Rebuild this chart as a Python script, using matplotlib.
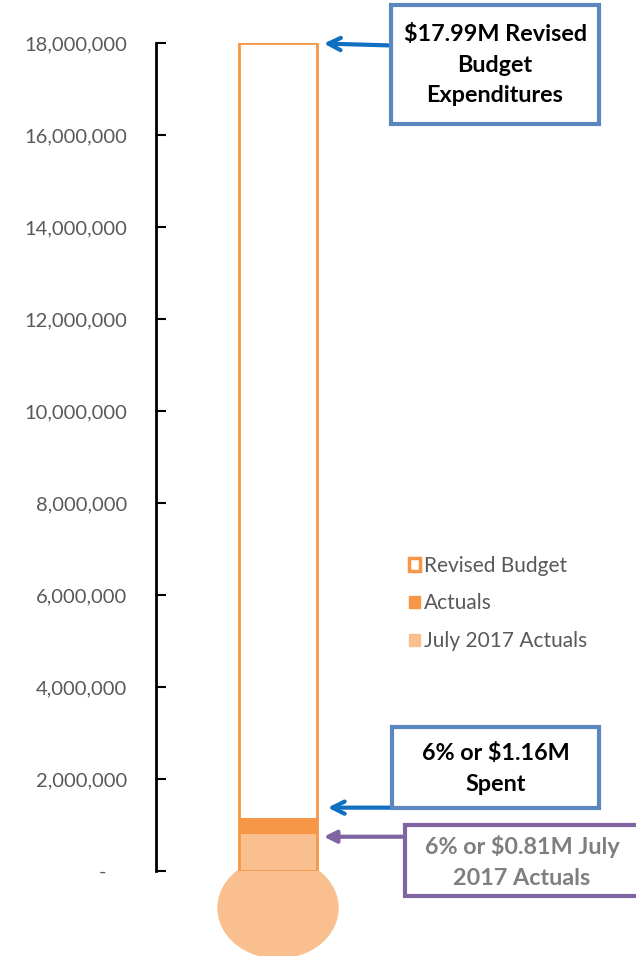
import matplotlib.pyplot as plt
from matplotlib.patches import Rectangle, Ellipse, Patch

plt.rcParams['font.family'] = ['Lato', 'DejaVu Sans']

# values
revised_budget = 17990000
actuals = 1160000
july_actuals = 810000
yticks = [0, 2000000, 4000000, 6000000, 8000000, 10000000, 12000000, 14000000, 16000000, 18000000]
ytick_labels = ['-    '] + ['{:,}'.format(v) for v in yticks[1:]]
legend_labels = ['Revised Budget', 'Actuals', 'July 2017 Actuals']
box_texts = ['$17.99M Revised\nBudget\nExpenditures', '6% or $1.16M\nSpent', '6% or $0.81M July\n2017 Actuals']

orange = '#F79646'
light = '#F9BF8F'
blue_edge = '#5B87C1'
blue_arrow = '#0F6FC0'
purple = '#8064A2'
gray = '#595959'

W, H = 636, 956
fig = plt.figure(figsize=(W / 100, H / 100), dpi=100)
ax = fig.add_axes([156 / W, (H - 871) / H, 480 / W, 828 / H])
ax.set_xlim(0, 480)
ax.set_ylim(0, 18000000)
px = 18000000 / 828  # value units per pixel

for s in ['top', 'right', 'bottom']:
    ax.spines[s].set_visible(False)
ax.spines['left'].set_linewidth(2)
ax.spines['left'].set_color('black')
ax.set_xticks([])
ax.set_yticks(yticks)
ax.set_yticklabels(ytick_labels)
ax.tick_params(axis='y', direction='in', length=7, width=1.5, color='black',
               labelcolor=gray, labelsize=14.5, pad=21)

bx, bw = 83, 78
# thermometer column
ax.bar(bx + bw / 2, july_actuals + 3 * px, width=bw, bottom=-3 * px, color=light, zorder=2)
ax.bar(bx + bw / 2, actuals - july_actuals, width=bw, bottom=july_actuals, color=orange, zorder=2)
ax.bar(bx + bw / 2, revised_budget, width=bw, bottom=0, facecolor='none',
       edgecolor=orange, linewidth=2, zorder=3)
ax.add_patch(Ellipse((bx + bw / 2, -37 * px), 120, 100 * px, color=light,
                     clip_on=False, zorder=2))

# legend
handles = [Patch(facecolor='white', edgecolor=orange, linewidth=2.5),
           Patch(facecolor=orange, edgecolor=orange),
           Patch(facecolor=light, edgecolor=light)]
leg = fig.legend(handles, legend_labels, loc='upper left', bbox_to_anchor=(390 / W, 1 - 537 / H),
                 frameon=False, fontsize=15, labelcolor=gray, handlelength=0.55,
                 handleheight=0.55, handletextpad=0.2, labelspacing=0.85)

# callout boxes (figure pixel coords, top-left origin converted)
def box(x0, y0, x1, y1, edge, lw=3):
    fig.patches.append(Rectangle((x0, H - y1), x1 - x0, y1 - y0, transform=None,
                                 facecolor='white', edgecolor=edge, linewidth=lw, zorder=5))

box(391, 5, 599, 124, blue_edge)
fig.text(495 / W, 1 - 65 / H, box_texts[0], ha='center', va='center', fontsize=16.8,
         fontweight='bold', color='black', linespacing=1.55, zorder=7)
box(392, 727, 599, 808, blue_edge)
fig.text(496 / W, 1 - 769 / H, box_texts[1], ha='center', va='center', fontsize=16.8,
         fontweight='bold', color='black', linespacing=1.55, zorder=7)
box(405, 825, 640, 896, purple)
fig.text(522 / W, 1 - 862 / H, box_texts[2], ha='center', va='center', fontsize=16.8,
         fontweight='bold', color='#7F7F7F', linespacing=1.55, zorder=7)

# arrows
ax.annotate('', xy=(bx + bw + 4, revised_budget), xytext=(391 - 156, revised_budget - 2 * px),
            arrowprops=dict(arrowstyle='->', color=blue_arrow, lw=3, mutation_scale=22), zorder=6)
ax.annotate('', xy=(bx + bw + 8, actuals + 10 * px), xytext=(436 - 156, actuals + 10 * px),
            arrowprops=dict(arrowstyle='->', color=blue_arrow, lw=3, mutation_scale=22), zorder=6)
ax.annotate('', xy=(bx + bw + 4, july_actuals - 3 * px), xytext=(405 - 156, july_actuals - 3 * px),
            arrowprops=dict(arrowstyle='-|>', color=purple, lw=3, mutation_scale=18), zorder=6)

fig.savefig('out.png', dpi=100)
